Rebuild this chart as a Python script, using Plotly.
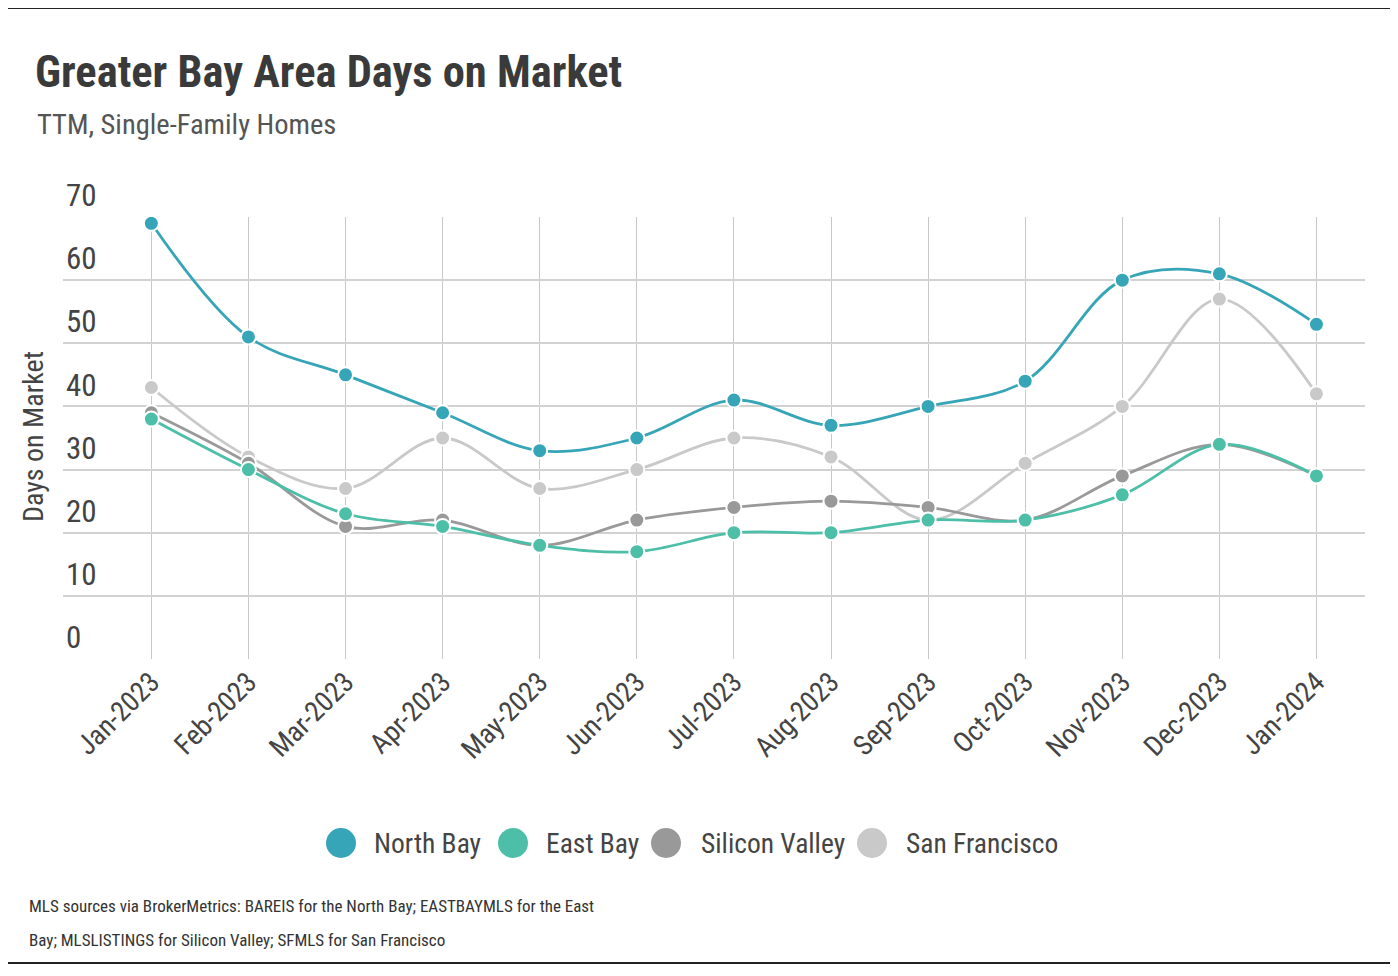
import plotly.graph_objects as go

months = ["Jan-2023", "Feb-2023", "Mar-2023", "Apr-2023", "May-2023", "Jun-2023",
          "Jul-2023", "Aug-2023", "Sep-2023", "Oct-2023", "Nov-2023", "Dec-2023", "Jan-2024"]
north_bay = [69, 51, 45, 39, 33, 35, 41, 37, 40, 44, 60, 61, 53]
east_bay = [38, 30, 23, 21, 18, 17, 20, 20, 22, 22, 26, 34, 29]
silicon_valley = [39, 31, 21, 22, 18, 22, 24, 25, 24, 22, 29, 34, 29]
san_francisco = [43, 32, 27, 35, 27, 30, 35, 32, 22, 31, 40, 57, 42]
y_ticks = [0, 10, 20, 30, 40, 50, 60, 70]

series_names = ["North Bay", "East Bay", "Silicon Valley", "San Francisco"]
series_vals = [north_bay, east_bay, silicon_valley, san_francisco]
colors = ["#36A5B7", "#4DBFA8", "#999999", "#C9C9C9"]

FONT = "Roboto Condensed, Liberation Sans Narrow, DejaVu Sans Condensed, Roboto, sans-serif"
TXT = "#444444"

fig = go.Figure()
order = [3, 2, 1, 0]
for i in order:
    fig.add_trace(go.Scatter(
        x=months, y=series_vals[i], name=series_names[i],
        mode="lines+markers",
        line=dict(color=colors[i], width=2.8, shape="spline", smoothing=1.0),
        marker=dict(color=colors[i], size=15, line=dict(color="white", width=2)),
        showlegend=False,
    ))

OFF = 8  # page body margin
W, H = 1398 - 2 * OFF, 976 - 2 * OFF
L, R, T, B = 63 - OFF, 1365 - OFF, 217 - OFF, 659 - OFF


def px(x):
    return (x - OFF - L) / (R - L)


def py(y):
    return (B - (y - OFF)) / (B - T)


fig.update_layout(
    width=W, height=H,
    margin=dict(l=L, r=W - R, t=T, b=H - B),
    paper_bgcolor="white", plot_bgcolor="white",
    font=dict(family=FONT, color=TXT),
    xaxis=dict(
        type="category", range=[-0.91, 12.5],
        showgrid=True, gridcolor="#c8c8c8", gridwidth=1,
        tickangle=-45, tickfont=dict(size=28, color=TXT, family=FONT),
        showline=False, zeroline=False, ticks="",
    ),
    yaxis=dict(
        range=[0, 70], tickvals=y_ticks,
        showgrid=True, gridcolor="#d2d2d2", gridwidth=2,
        ticklabelposition="inside top", ticklabeloverflow="allow",
        tickfont=dict(size=31, color=TXT, family=FONT),
        zeroline=False, showline=False, ticks="",
    ),
)

fig.add_annotation(text="Days on Market", xref="paper", yref="paper",
                   x=px(33), y=py(437), textangle=-90, showarrow=False,
                   font=dict(size=28, color=TXT, family=FONT),
                   xanchor="center", yanchor="middle")
fig.add_annotation(text="<b>Greater Bay Area Days on Market</b>", xref="paper", yref="paper",
                   x=px(33), y=py(72), showarrow=False, xanchor="left", yanchor="middle",
                   font=dict(size=44.5, color="#3a3a3a", family=FONT))
fig.add_annotation(text="TTM, Single-Family Homes", xref="paper", yref="paper",
                   x=px(35), y=py(124), showarrow=False, xanchor="left", yanchor="middle",
                   font=dict(size=28.5, color="#555555", family=FONT))
fig.add_annotation(text="MLS sources via BrokerMetrics: BAREIS for the North Bay; EASTBAYMLS for the East",
                   xref="paper", yref="paper", x=px(27), y=py(906), showarrow=False,
                   xanchor="left", yanchor="middle", font=dict(size=17, color="#333333", family=FONT))
fig.add_annotation(text="Bay; MLSLISTINGS for Silicon Valley; SFMLS for San Francisco",
                   xref="paper", yref="paper", x=px(27), y=py(940), showarrow=False,
                   xanchor="left", yanchor="middle", font=dict(size=17, color="#333333", family=FONT))

leg_circle_x = [341, 513, 666, 872]
leg_text_x = [372, 544, 699, 904]
for i in range(4):
    fig.add_shape(type="circle", xref="paper", yref="paper",
                  xsizemode="pixel", ysizemode="pixel",
                  xanchor=px(leg_circle_x[i]), yanchor=py(843),
                  x0=-15, x1=15, y0=-15, y1=15,
                  fillcolor=colors[i], line=dict(width=0))
    fig.add_annotation(text=series_names[i], xref="paper", yref="paper",
                       x=px(leg_text_x[i]), y=py(843), showarrow=False,
                       xanchor="left", yanchor="middle",
                       font=dict(size=27.5, color=TXT, family=FONT))

for yy in (8, 963):
    fig.add_shape(type="line", xref="paper", yref="paper",
                  x0=px(0), x1=px(1398), y0=py(yy), y1=py(yy),
                  line=dict(color="#222222", width=2))

fig.write_html("out.html")
